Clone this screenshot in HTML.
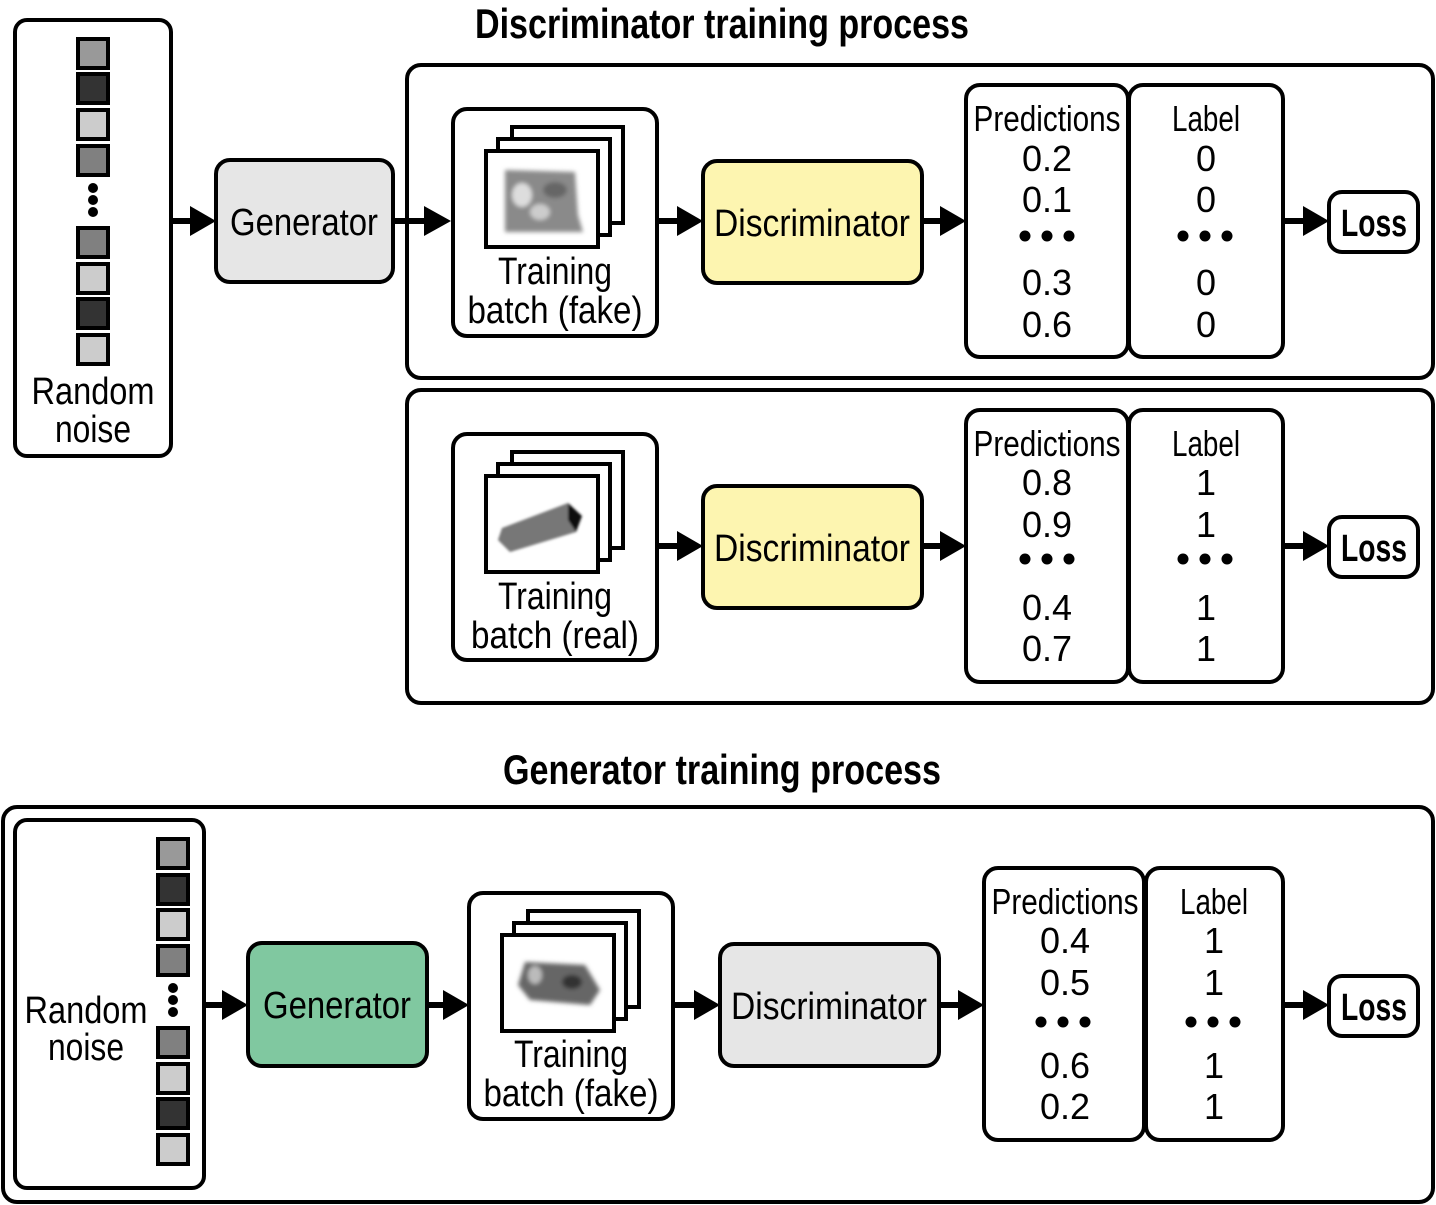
<!DOCTYPE html>
<html><head><meta charset="utf-8"><style>
html,body{margin:0;padding:0;background:#fff;}
svg{display:block;}
text{font-family:"Liberation Sans",sans-serif;fill:#000;}
</style></head><body>
<svg width="1436" height="1205" viewBox="0 0 1436 1205" xmlns="http://www.w3.org/2000/svg">
<defs>
<filter id="bl" x="-20%" y="-20%" width="140%" height="140%"><feGaussianBlur stdDeviation="2.2"/></filter>
<filter id="bl2" x="-20%" y="-20%" width="140%" height="140%"><feGaussianBlur stdDeviation="1.2"/></filter>
</defs>
<g fill="none" stroke="#000" stroke-width="4">
<!-- Outer boxes -->
<rect x="407" y="65" width="1026" height="313" rx="14"/>
<rect x="407" y="390" width="1026" height="313" rx="14"/>
<rect x="3" y="807" width="1430" height="395" rx="14"/>
</g>

<!-- Titles -->
<text x="722" y="38" font-size="42" font-weight="bold" text-anchor="middle" textLength="494" lengthAdjust="spacingAndGlyphs">Discriminator training process</text>
<text x="722" y="784" font-size="42" font-weight="bold" text-anchor="middle" textLength="438" lengthAdjust="spacingAndGlyphs">Generator training process</text>

<!-- Noise box 1 -->
<rect x="15" y="20" width="156" height="436" rx="12" fill="#fff" stroke="#000" stroke-width="4"/>
<g stroke="#000" stroke-width="4">
<rect x="78" y="39" width="30" height="29" fill="#999"/>
<rect x="78" y="74" width="30" height="29" fill="#333"/>
<rect x="78" y="110" width="30" height="29" fill="#ccc"/>
<rect x="78" y="146" width="30" height="29" fill="#808080"/>
<rect x="78" y="228" width="30" height="29" fill="#808080"/>
<rect x="78" y="264" width="30" height="29" fill="#ccc"/>
<rect x="78" y="299" width="30" height="29" fill="#333"/>
<rect x="78" y="335" width="30" height="29" fill="#ccc"/>
</g>
<circle cx="93" cy="188" r="5"/><circle cx="93" cy="200" r="5"/><circle cx="93" cy="212" r="5"/>
<text x="93" y="404" font-size="38" text-anchor="middle" textLength="123" lengthAdjust="spacingAndGlyphs">Random</text>
<text x="93" y="442" font-size="38" text-anchor="middle" textLength="76" lengthAdjust="spacingAndGlyphs">noise</text>

<!-- Noise box 2 -->
<rect x="15" y="820" width="189" height="368" rx="12" fill="#fff" stroke="#000" stroke-width="4"/>
<g stroke="#000" stroke-width="4">
<rect x="158" y="839" width="30" height="29" fill="#999"/>
<rect x="158" y="875" width="30" height="29" fill="#333"/>
<rect x="158" y="910" width="30" height="29" fill="#ccc"/>
<rect x="158" y="946" width="30" height="29" fill="#808080"/>
<rect x="158" y="1028" width="30" height="29" fill="#808080"/>
<rect x="158" y="1064" width="30" height="29" fill="#ccc"/>
<rect x="158" y="1099" width="30" height="29" fill="#333"/>
<rect x="158" y="1135" width="30" height="29" fill="#ccc"/>
</g>
<circle cx="173" cy="988" r="5"/><circle cx="173" cy="1000" r="5"/><circle cx="173" cy="1012" r="5"/>
<text x="86" y="1023" font-size="38" text-anchor="middle" textLength="123" lengthAdjust="spacingAndGlyphs">Random</text>
<text x="86" y="1060" font-size="38" text-anchor="middle" textLength="76" lengthAdjust="spacingAndGlyphs">noise</text>

<!-- Process boxes -->
<g stroke="#000" stroke-width="4">
<rect x="216" y="160" width="177" height="122" rx="14" fill="#e6e6e6"/>
<rect x="703" y="161" width="219" height="122" rx="14" fill="#fdf5b0"/>
<rect x="703" y="486" width="219" height="122" rx="14" fill="#fdf5b0"/>
<rect x="248" y="943" width="179" height="123" rx="14" fill="#80c8a0"/>
<rect x="720" y="944" width="219" height="122" rx="14" fill="#e6e6e6"/>
</g>
<text x="304" y="235" font-size="38" text-anchor="middle" textLength="148" lengthAdjust="spacingAndGlyphs">Generator</text>
<text x="812" y="236" font-size="38" text-anchor="middle" textLength="196" lengthAdjust="spacingAndGlyphs">Discriminator</text>
<text x="812" y="561" font-size="38" text-anchor="middle" textLength="196" lengthAdjust="spacingAndGlyphs">Discriminator</text>
<text x="337" y="1018" font-size="38" text-anchor="middle" textLength="148" lengthAdjust="spacingAndGlyphs">Generator</text>
<text x="829" y="1019" font-size="38" text-anchor="middle" textLength="196" lengthAdjust="spacingAndGlyphs">Discriminator</text>

<!-- Training batch boxes -->
<g stroke="#000" stroke-width="4" fill="#fff">
<rect x="453" y="109" width="204" height="227" rx="14"/>
<rect x="512" y="127" width="111" height="96"/>
<rect x="498" y="139" width="112" height="96"/>
<rect x="486" y="151" width="112" height="96"/>

<rect x="453" y="434" width="204" height="226" rx="14"/>
<rect x="512" y="452" width="111" height="96"/>
<rect x="498" y="464" width="112" height="96"/>
<rect x="486" y="476" width="112" height="96"/>

<rect x="469" y="893" width="204" height="226" rx="14"/>
<rect x="528" y="911" width="111" height="96"/>
<rect x="514" y="923" width="112" height="96"/>
<rect x="502" y="935" width="112" height="96"/>
</g>
<!-- images -->
<g filter="url(#bl)">
<polygon points="505,170 575,172 578,215 583,232 505,232" fill="#8a8a8a"/>
<ellipse cx="522" cy="195" rx="10" ry="12" fill="#ddd"/>
<ellipse cx="540" cy="212" rx="10" ry="8" fill="#ccc"/>
<ellipse cx="555" cy="190" rx="12" ry="8" fill="#666"/>
</g>
<g filter="url(#bl2)">
<polygon points="502,528 568,503 582,516 576,532 510,552 498,540" fill="#777"/>
<polygon points="568,503 582,516 576,532 568,520" fill="#111"/>
</g>
<g filter="url(#bl)">
<polygon points="525,962 585,965 600,990 590,1005 530,1000 518,985" fill="#666"/>
<ellipse cx="535" cy="975" rx="7" ry="9" fill="#bbb"/>
<ellipse cx="572" cy="982" rx="10" ry="7" fill="#333"/>
</g>
<text x="555" y="284" font-size="38" text-anchor="middle" textLength="114" lengthAdjust="spacingAndGlyphs">Training</text>
<text x="555" y="323" font-size="38" text-anchor="middle" textLength="175" lengthAdjust="spacingAndGlyphs">batch (fake)</text>
<text x="555" y="609" font-size="38" text-anchor="middle" textLength="114" lengthAdjust="spacingAndGlyphs">Training</text>
<text x="555" y="648" font-size="38" text-anchor="middle" textLength="168" lengthAdjust="spacingAndGlyphs">batch (real)</text>
<text x="571" y="1067" font-size="38" text-anchor="middle" textLength="114" lengthAdjust="spacingAndGlyphs">Training</text>
<text x="571" y="1106" font-size="38" text-anchor="middle" textLength="175" lengthAdjust="spacingAndGlyphs">batch (fake)</text>

<!-- Predictions/Label boxes -->
<g stroke="#000" stroke-width="4" fill="#fff">
<rect x="966" y="85" width="162" height="272" rx="14"/>
<rect x="1129" y="85" width="154" height="272" rx="14"/>
<rect x="966" y="410" width="162" height="272" rx="14"/>
<rect x="1129" y="410" width="154" height="272" rx="14"/>
<rect x="984" y="868" width="160" height="272" rx="14"/>
<rect x="1146" y="868" width="137" height="272" rx="14"/>
<rect x="1329" y="192" width="89" height="60" rx="13"/>
<rect x="1329" y="517" width="89" height="60" rx="13"/>
<rect x="1329" y="976" width="89" height="60" rx="13"/>
</g>
<g font-size="36" text-anchor="middle">
<text x="1047" y="131" textLength="147" lengthAdjust="spacingAndGlyphs">Predictions</text>
<text x="1047" y="171">0.2</text><text x="1047" y="212">0.1</text>
<text x="1047" y="295">0.3</text><text x="1047" y="337">0.6</text>
<text x="1206" y="131" textLength="68" lengthAdjust="spacingAndGlyphs">Label</text>
<text x="1206" y="171">0</text><text x="1206" y="212">0</text>
<text x="1206" y="295">0</text><text x="1206" y="337">0</text>

<text x="1047" y="456" textLength="147" lengthAdjust="spacingAndGlyphs">Predictions</text>
<text x="1047" y="495">0.8</text><text x="1047" y="537">0.9</text>
<text x="1047" y="620">0.4</text><text x="1047" y="661">0.7</text>
<text x="1206" y="456" textLength="68" lengthAdjust="spacingAndGlyphs">Label</text>
<text x="1206" y="495">1</text><text x="1206" y="537">1</text>
<text x="1206" y="620">1</text><text x="1206" y="661">1</text>

<text x="1065" y="914" textLength="147" lengthAdjust="spacingAndGlyphs">Predictions</text>
<text x="1065" y="953">0.4</text><text x="1065" y="995">0.5</text>
<text x="1065" y="1078">0.6</text><text x="1065" y="1119">0.2</text>
<text x="1214" y="914" textLength="68" lengthAdjust="spacingAndGlyphs">Label</text>
<text x="1214" y="953">1</text><text x="1214" y="995">1</text>
<text x="1214" y="1078">1</text><text x="1214" y="1119">1</text>
</g>
<g font-size="38" text-anchor="middle" font-weight="bold">
<text x="1374" y="236" textLength="66" lengthAdjust="spacingAndGlyphs">Loss</text>
<text x="1374" y="561" textLength="66" lengthAdjust="spacingAndGlyphs">Loss</text>
<text x="1374" y="1020" textLength="66" lengthAdjust="spacingAndGlyphs">Loss</text>
</g>
<!-- dots -->
<g>
<circle cx="1025" cy="236" r="5.5"/><circle cx="1047" cy="236" r="5.5"/><circle cx="1069" cy="236" r="5.5"/>
<circle cx="1183" cy="236" r="5.5"/><circle cx="1205" cy="236" r="5.5"/><circle cx="1227" cy="236" r="5.5"/>
<circle cx="1025" cy="559" r="5.5"/><circle cx="1047" cy="559" r="5.5"/><circle cx="1069" cy="559" r="5.5"/>
<circle cx="1183" cy="559" r="5.5"/><circle cx="1205" cy="559" r="5.5"/><circle cx="1227" cy="559" r="5.5"/>
<circle cx="1041" cy="1022" r="5.5"/><circle cx="1063" cy="1022" r="5.5"/><circle cx="1085" cy="1022" r="5.5"/>
<circle cx="1191" cy="1022" r="5.5"/><circle cx="1213" cy="1022" r="5.5"/><circle cx="1235" cy="1022" r="5.5"/>
</g>

<!-- Arrows -->
<g stroke="#000" stroke-width="6">
<line x1="171" y1="221" x2="195" y2="221"/>
<line x1="393" y1="221" x2="430" y2="221"/>
<line x1="657" y1="221" x2="683" y2="221"/>
<line x1="922" y1="221" x2="945" y2="221"/>
<line x1="1283" y1="221" x2="1308" y2="221"/>
<line x1="657" y1="546" x2="683" y2="546"/>
<line x1="922" y1="546" x2="945" y2="546"/>
<line x1="1283" y1="546" x2="1308" y2="546"/>
<line x1="204" y1="1005" x2="228" y2="1005"/>
<line x1="427" y1="1005" x2="448" y2="1005"/>
<line x1="673" y1="1005" x2="699" y2="1005"/>
<line x1="939" y1="1005" x2="963" y2="1005"/>
<line x1="1283" y1="1005" x2="1308" y2="1005"/>
</g>
<g fill="#000">
<polygon points="190,206 216,221 190,236"/>
<polygon points="424,206 451,221 424,236"/>
<polygon points="677,206 703,221 677,236"/>
<polygon points="940,206 966,221 940,236"/>
<polygon points="1303,206 1329,221 1303,236"/>
<polygon points="677,531 703,546 677,561"/>
<polygon points="940,531 966,546 940,561"/>
<polygon points="1303,531 1329,546 1303,561"/>
<polygon points="222,990 248,1005 222,1020"/>
<polygon points="443,990 469,1005 443,1020"/>
<polygon points="694,990 720,1005 694,1020"/>
<polygon points="958,990 984,1005 958,1020"/>
<polygon points="1303,990 1329,1005 1303,1020"/>
</g>
</svg>
</body></html>
